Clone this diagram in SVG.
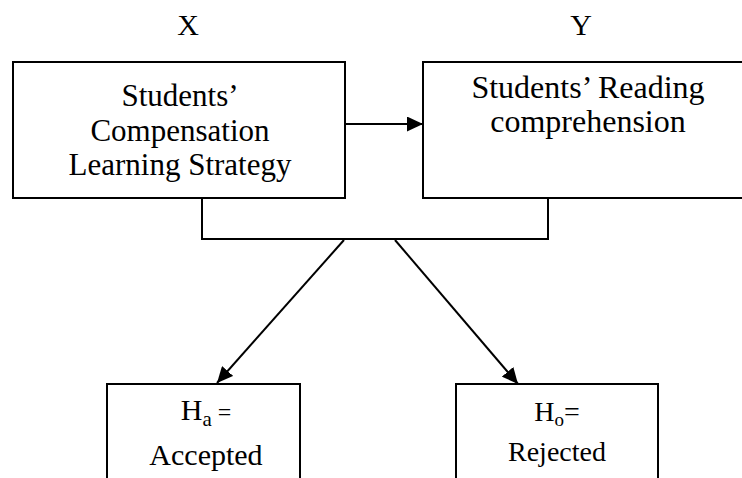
<svg xmlns="http://www.w3.org/2000/svg" width="742" height="478" viewBox="0 0 742 478">
<style>
.box{fill:#fff;stroke:#000;stroke-width:2}
.t{font-family:"Liberation Serif","Times New Roman",serif;fill:#000;text-anchor:middle}
.ln{fill:none;stroke:#000;stroke-width:2}
</style>
<defs>
<marker id="ah" markerUnits="userSpaceOnUse" markerWidth="17" markerHeight="15" refX="16" refY="7.5" orient="auto">
<path d="M0,0 L16,7.5 L0,15 z" fill="#000"/>
</marker>
</defs>
<rect width="742" height="478" fill="#fff"/>
<text class="t" x="188" y="35" font-size="30">X</text>
<text class="t" x="581" y="35" font-size="30">Y</text>
<g id="node-x">
<rect class="box" x="13" y="62" width="332" height="136"/>
<text class="t" font-size="31"><tspan x="180" y="106">Students’</tspan><tspan x="180" y="141">Compensation</tspan><tspan x="180" y="175">Learning Strategy</tspan></text>
</g>
<g id="node-y">
<rect class="box" x="423" y="62" width="330" height="136"/>
<text class="t" font-size="32"><tspan x="588" y="98">Students’ Reading</tspan><tspan x="588" y="132">comprehension</tspan></text>
</g>
<g id="node-ha">
<rect class="box" x="107" y="384" width="193" height="120"/>
<text class="t" font-size="30" x="206" y="420">H<tspan font-size="21" dy="6">a</tspan><tspan dy="-6" font-size="24"> =</tspan></text>
<text class="t" font-size="30" x="206" y="465">Accepted</text>
</g>
<g id="node-ho">
<rect class="box" x="456" y="384" width="202" height="120"/>
<text class="t" font-size="28" x="557" y="421">H<tspan font-size="19" dy="5">o</tspan><tspan dy="-5">=</tspan></text>
<text class="t" font-size="28" x="557" y="461">Rejected</text>
</g>
<g id="connectors">
<line class="ln" x1="345" y1="124" x2="423" y2="124" marker-end="url(#ah)"/>
<polyline class="ln" points="202,198 202,239 548,239 548,198"/>
<line class="ln" x1="344" y1="240" x2="217" y2="383" marker-end="url(#ah)"/>
<line class="ln" x1="395" y1="240" x2="518" y2="384" marker-end="url(#ah)"/>
</g>
</svg>
